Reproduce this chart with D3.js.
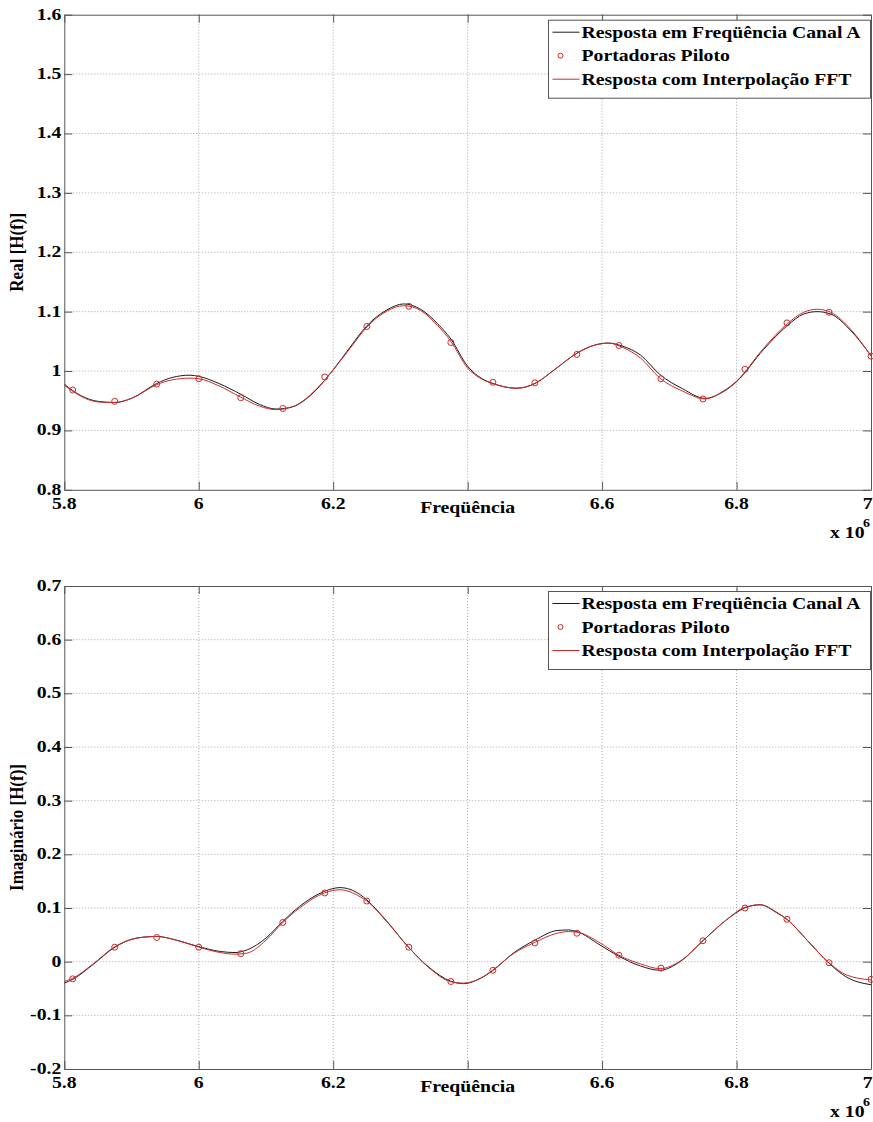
<!DOCTYPE html>
<html><head><meta charset="utf-8">
<script src="https://cdn.jsdelivr.net/npm/d3@7"></script>
<style>
body{margin:0;background:#fff}
text{font-family:"Liberation Serif","Times New Roman",serif;font-weight:bold;fill:#000}
</style>
</head><body>
<svg id="c" width="873" height="1122"></svg>
<script>
// ---- data (frequency in units of 10^6 Hz) ----
const freqPilot = [5.8125, 5.875, 5.9375, 6.0, 6.0625, 6.125, 6.1875, 6.25, 6.3125, 6.375,
                   6.4375, 6.5, 6.5625, 6.625, 6.6875, 6.75, 6.8125, 6.875, 6.9375, 7.0];
const realPilot = [0.968, 0.949, 0.978, 0.987, 0.955, 0.937, 0.990, 1.075, 1.109, 1.048,
                   0.981, 0.980, 1.028, 1.043, 0.987, 0.953, 1.003, 1.081, 1.099, 1.025];
const imagPilot = [-0.032, 0.027, 0.045, 0.027, 0.015, 0.073, 0.128, 0.113, 0.027, -0.037,
                   -0.016, 0.035, 0.053, 0.012, -0.012, 0.039, 0.100, 0.079, -0.002, -0.033];

const freqRealCurve = [5.80, 5.8125, 5.85, 5.875, 5.90, 5.9375, 5.96, 5.987, 6.00, 6.03,
  6.0625, 6.09, 6.115, 6.14, 6.17, 6.20, 6.225, 6.25, 6.28, 6.305, 6.33, 6.355, 6.375, 6.40,
  6.42, 6.4375, 6.473, 6.50, 6.53, 6.5625, 6.59, 6.61, 6.63, 6.657, 6.686, 6.72, 6.753, 6.78, 6.80,
  6.84, 6.875, 6.90, 6.92, 6.94, 6.97, 7.00];
const realChannel = [0.978, 0.967, 0.949, 0.947, 0.954, 0.979, 0.989, 0.993, 0.991, 0.979,
  0.961, 0.944, 0.936, 0.940, 0.963, 1.002, 1.040, 1.076, 1.103, 1.113, 1.104, 1.080, 1.054, 1.008,
  0.988, 0.979, 0.971, 0.979, 1.003, 1.030, 1.044, 1.047, 1.042, 1.027, 0.994, 0.970, 0.954, 0.965, 0.982,
  1.036, 1.076, 1.096, 1.100, 1.096, 1.068, 1.026];
const realFFT = [0.976, 0.966, 0.948, 0.947, 0.954, 0.977, 0.985, 0.988, 0.987, 0.975,
  0.956, 0.941, 0.935, 0.940, 0.964, 1.002, 1.038, 1.074, 1.101, 1.110, 1.102, 1.077, 1.050, 1.005,
  0.987, 0.979, 0.971, 0.979, 1.003, 1.030, 1.044, 1.047, 1.040, 1.022, 0.988, 0.966, 0.953, 0.966, 0.983,
  1.038, 1.079, 1.099, 1.104, 1.099, 1.070, 1.025];

const freqImagCurve = [5.80, 5.8125, 5.843, 5.874, 5.908, 5.9375, 5.967, 6.00, 6.032, 6.054,
  6.072, 6.10, 6.125, 6.15, 6.187, 6.21, 6.24, 6.25, 6.28, 6.312, 6.344, 6.374, 6.394, 6.419,
  6.437, 6.468, 6.50, 6.533, 6.55, 6.5625, 6.597, 6.625, 6.657, 6.686, 6.716, 6.75, 6.785, 6.812,
  6.835, 6.86, 6.875, 6.905, 6.9375, 6.964, 7.00];
const imagChannel = [-0.040, -0.033, -0.005, 0.026, 0.044, 0.047, 0.040, 0.028, 0.019, 0.017,
  0.022, 0.044, 0.075, 0.103, 0.131, 0.138, 0.125, 0.115, 0.075, 0.027, -0.012, -0.036, -0.041, -0.031,
  -0.017, 0.016, 0.040, 0.058, 0.059, 0.056, 0.031, 0.010, -0.008, -0.016, 0.000, 0.039, 0.078, 0.100,
  0.106, 0.091, 0.079, 0.040, -0.003, -0.029, -0.043];
const imagFFT = [-0.037, -0.031, -0.004, 0.027, 0.044, 0.047, 0.040, 0.027, 0.017, 0.014,
  0.016, 0.040, 0.073, 0.100, 0.128, 0.134, 0.121, 0.113, 0.074, 0.027, -0.013, -0.037, -0.040, -0.031,
  -0.016, 0.015, 0.036, 0.053, 0.056, 0.055, 0.035, 0.012, -0.004, -0.013, 0.001, 0.039, 0.078, 0.101,
  0.106, 0.092, 0.079, 0.040, -0.002, -0.025, -0.034];

const xTicks = [5.8, 6.0, 6.2, 6.4, 6.6, 6.8, 7.0];
// the 6.4 label is hidden under the axis title in the original
const xTickLabels = ["5.8", "6", "6.2", "", "6.6", "6.8", "7"];
const realTicks = [0.8, 0.9, 1.0, 1.1, 1.2, 1.3, 1.4, 1.5, 1.6];
const realTickLabels = ["0.8", "0.9", "1", "1.1", "1.2", "1.3", "1.4", "1.5", "1.6"];
const imagTicks = [-0.2, -0.1, 0.0, 0.1, 0.2, 0.3, 0.4, 0.5, 0.6, 0.7];
const imagTickLabels = ["-0.2", "-0.1", "0", "0.1", "0.2", "0.3", "0.4", "0.5", "0.6", "0.7"];
const legendLabels = ["Resposta em Freqüência Canal A", "Portadoras Piloto", "Resposta com Interpolação FFT"];
const xLabel = "Freqüência";
const yLabels = ["Real [H(f)]", "Imaginário [H(f)]"];

// ---- drawing ----
const SX = 1.16;            // horizontal stretch of the original raster text
const FS = 17;
const svg = d3.select("#c");
const left = 64.3, right = 871;
const x = d3.scaleLinear().domain([5.8, 7.0]).range([left, right]);
const axisCol = "#555";
const BLACK = "#1a1a1a", RED = "#cc2a2a";

function label(g, px, py, str, anchor, size, rot) {
  const t = g.append("g").attr("transform",
    `translate(${px},${py}) scale(${SX},1)` + (rot ? ` rotate(${rot})` : ""));
  t.append("text").attr("text-anchor", anchor).attr("font-size", size).text(str);
  return t;
}

function panel(idx, top, bottom, yDomain, yTicks, yTickLabels, fC, chan, fft, pil, ylab) {
  const g = svg.append("g");
  const y = d3.scaleLinear().domain(yDomain).range([bottom, top]);
  const clipId = "clip" + idx;
  svg.append("clipPath").attr("id", clipId).append("rect")
    .attr("x", left).attr("y", top).attr("width", right - left).attr("height", bottom - top);

  // grid
  g.append("g").selectAll("line").data(xTicks.slice(1, -1)).join("line")
    .attr("x1", d => x(d)).attr("x2", d => x(d)).attr("y1", top).attr("y2", bottom)
    .attr("stroke", "#a8a8a8").attr("stroke-width", 1).attr("stroke-dasharray", "1,2");
  g.append("g").selectAll("line").data(yTicks.slice(1, -1)).join("line")
    .attr("x1", left).attr("x2", right).attr("y1", d => y(d)).attr("y2", d => y(d))
    .attr("stroke", "#a8a8a8").attr("stroke-width", 1).attr("stroke-dasharray", "1,2");

  // axes (ticks inward, MATLAB style)
  const ax = [
    [d3.axisBottom(x).tickValues(xTicks), `translate(0,${bottom})`],
    [d3.axisTop(x).tickValues(xTicks), `translate(0,${top})`],
    [d3.axisLeft(y).tickValues(yTicks), `translate(${left},0)`],
    [d3.axisRight(y).tickValues(yTicks), `translate(${right},0)`]
  ];
  ax.forEach(([a, tr]) => {
    const ag = g.append("g").attr("transform", tr)
      .call(a.tickSizeInner(-8).tickSizeOuter(0).tickFormat(""));
    ag.select(".domain").attr("stroke", axisCol);
    ag.selectAll(".tick line").attr("stroke", axisCol);
  });

  // tick labels (last one kept inside the page edge, as in the original)
  xTicks.forEach((v, i) => {
    if (!xTickLabels[i]) return;
    const last = i === xTicks.length - 1;
    label(g, last ? 872.5 : x(v), bottom + 19, xTickLabels[i], last ? "end" : "middle", FS);
  });
  yTicks.forEach((v, i) => label(g, left - 3, y(v) + 5, yTickLabels[i], "end", FS));

  // curves
  const line = d3.line().x(d => x(d[0])).y(d => y(d[1])).curve(d3.curveMonotoneX);
  const cg = g.append("g").attr("clip-path", `url(#${clipId})`);
  cg.append("path").datum(d3.zip(fC, chan)).attr("d", line)
    .attr("fill", "none").attr("stroke", BLACK).attr("stroke-width", 1);
  cg.append("path").datum(d3.zip(fC, fft)).attr("d", line)
    .attr("fill", "none").attr("stroke", RED).attr("stroke-width", 1);
  g.append("g").selectAll("circle").data(d3.zip(freqPilot, pil)).join("circle")
    .attr("cx", d => x(d[0])).attr("cy", d => y(d[1])).attr("r", 3)
    .attr("fill", "none").attr("stroke", RED).attr("stroke-width", 1);

  // labels
  label(g, (left + right) / 2, bottom + 23, xLabel, "middle", FS);
  label(g, 830, bottom + 48, "x 10", "start", FS);
  label(g, 863, bottom + 37, "6", "start", 12);
  label(g, 23, (top + bottom) / 2, ylab, "middle", FS, -90);

  // legend
  const lx = 548.5, ly = top + 5.5, lw = 322, lh = 78;
  const lg = g.append("g");
  lg.append("rect").attr("x", lx).attr("y", ly).attr("width", lw).attr("height", lh)
    .attr("fill", "#fff").attr("stroke", axisCol).attr("stroke-width", 1);
  const rows = [ly + 12, ly + 35.5, ly + 59];
  lg.append("line").attr("x1", lx + 4).attr("x2", lx + 31).attr("y1", rows[0]).attr("y2", rows[0])
    .attr("stroke", BLACK);
  lg.append("circle").attr("cx", lx + 12).attr("cy", rows[1]).attr("r", 2.5)
    .attr("fill", "none").attr("stroke", RED);
  lg.append("line").attr("x1", lx + 4).attr("x2", lx + 31).attr("y1", rows[2]).attr("y2", rows[2])
    .attr("stroke", RED);
  legendLabels.forEach((s, i) => label(lg, lx + 33, rows[i] + 5.5, s, "start", FS));
}

panel(0, 14.7, 489.8, [0.8, 1.6], realTicks, realTickLabels, freqRealCurve, realChannel, realFFT, realPilot, yLabels[0]);
panel(1, 586, 1069, [-0.2, 0.7], imagTicks, imagTickLabels, freqImagCurve, imagChannel, imagFFT, imagPilot, yLabels[1]);
</script>
</body></html>
